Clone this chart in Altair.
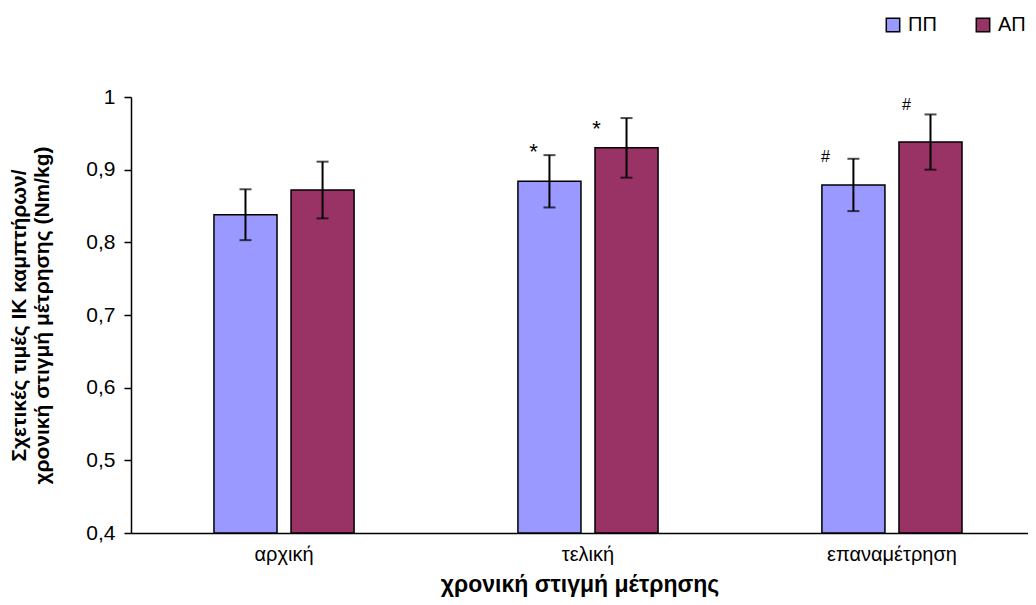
import altair as alt
import pandas as pd

categories = ["αρχική", "τελική", "επαναμέτρηση"]
groups = ["ΠΠ", "ΑΠ"]
pp_mean = [0.838, 0.884, 0.879]
pp_err = [0.035, 0.036, 0.036]
ap_mean = [0.872, 0.930, 0.938]
ap_err = [0.039, 0.041, 0.038]
colors = ["#9999FF", "#993366"]

marker_text = ["*", "*", "#", "#"]
marker_cat = ["τελική", "τελική", "επαναμέτρηση", "επαναμέτρηση"]
marker_group = ["ΠΠ", "ΑΠ", "ΠΠ", "ΑΠ"]
marker_y = [0.931, 0.963, 0.917, 0.989]
marker_dx = [-16, -30, -28, -24]

y_ticks = [0.4, 0.5, 0.6, 0.7, 0.8, 0.9, 1.0]

FONT = "Liberation Sans"

rows = []
for i, c in enumerate(categories):
    rows.append(dict(cat=c, grp=groups[0], mean=pp_mean[i],
                     lo=pp_mean[i] - pp_err[i], hi=pp_mean[i] + pp_err[i]))
    rows.append(dict(cat=c, grp=groups[1], mean=ap_mean[i],
                     lo=ap_mean[i] - ap_err[i], hi=ap_mean[i] + ap_err[i]))
df = pd.DataFrame(rows)

xscale = alt.Scale(paddingInner=0.539, paddingOuter=0.245, align=0.557)
oscale = alt.Scale(paddingInner=0.182, paddingOuter=0)

x = alt.X("cat:N", sort=categories, scale=xscale,
          axis=alt.Axis(title="χρονική στιγμή μέτρησης", labelAngle=0, ticks=False,
                        domainColor="black", domainWidth=1.5, labelFontSize=20,
                        labelColor="black", labelFont=FONT, labelPadding=11,
                        titleFont=FONT, titleFontSize=23, titleFontWeight="bold",
                        titleColor="black", titleY=58, titleBaseline="alphabetic"))
xoff = alt.XOffset("grp:N", sort=groups, scale=oscale)
yscale = alt.Scale(domain=[0.4, 1.0], zero=False, nice=False)
y = alt.Y("mean:Q", scale=yscale,
          axis=alt.Axis(values=y_ticks,
                        labelExpr="replace(format(datum.value, '.1~f'), '.', ',')",
                        grid=False, domainColor="black", domainWidth=1.5,
                        tickColor="black", tickSize=7, tickWidth=1.5,
                        labelFontSize=21, labelColor="black", labelFont=FONT,
                        labelPadding=9,
                        title=["Σχετικές τιμές ΙΚ καμπτήρων/",
                               "χρονική στιγμή μέτρησης (Nm/kg)"],
                        titleFont=FONT, titleFontSize=21, titleFontWeight="bold",
                        titleColor="black", titleLineHeight=23,
                        titleX=-112, titleY=218, titleAngle=-90,
                        titleAlign="center", titleBaseline="middle"))

bars = alt.Chart(df).mark_bar(stroke="black", strokeWidth=1.5).encode(
    x=x, xOffset=xoff, y=y, y2=alt.datum(0.4),
    color=alt.Color("grp:N", sort=groups,
                    scale=alt.Scale(domain=groups, range=colors),
                    legend=alt.Legend(orient="none", legendX=752, legendY=-82,
                                      direction="horizontal", title=None, padding=0,
                                      symbolType="square", symbolSize=180,
                                      symbolStrokeColor="black", symbolStrokeWidth=1.5,
                                      labelFontSize=20, labelFont=FONT,
                                      labelColor="black", labelOffset=5,
                                      columnPadding=36))
)

xs = alt.X("cat:N", sort=categories, scale=xscale)
xo = alt.XOffset("grp:N", sort=groups, scale=oscale)

rules = alt.Chart(df).mark_rule(color="black", strokeWidth=2).encode(
    x=xs, xOffset=xo, y=alt.Y("lo:Q", scale=yscale), y2="hi:Q")

caps_lo = alt.Chart(df).mark_tick(color="black", thickness=2, size=12).encode(
    x=xs, xOffset=xo, y=alt.Y("lo:Q", scale=yscale))
caps_hi = alt.Chart(df).mark_tick(color="black", thickness=2, size=12).encode(
    x=xs, xOffset=xo, y=alt.Y("hi:Q", scale=yscale))

layers = [bars, rules, caps_lo, caps_hi]
for t, c, g, yv, dx in zip(marker_text, marker_cat, marker_group, marker_y, marker_dx):
    mdf = pd.DataFrame({"cat": [c], "grp": [g], "yv": [yv], "t": [t]})
    layers.append(
        alt.Chart(mdf).mark_text(dx=dx, fontSize=22 if t == "*" else 16,
                                 font=FONT, color="black", baseline="middle",
                                 dy=5 if t == "*" else 0).encode(
            x=xs, xOffset=xo,
            y=alt.Y("yv:Q", scale=yscale), text="t:N"))

chart = alt.layer(*layers).properties(
    width=897, height=436,
    autosize=alt.AutoSizeParams(type="none"),
    padding={"left": 123, "top": 89, "right": 0, "bottom": 72}
).configure(background="white", view=alt.ViewConfig(stroke=None))

chart.save("out.html", embed_options={"renderer": "svg", "actions": False})
